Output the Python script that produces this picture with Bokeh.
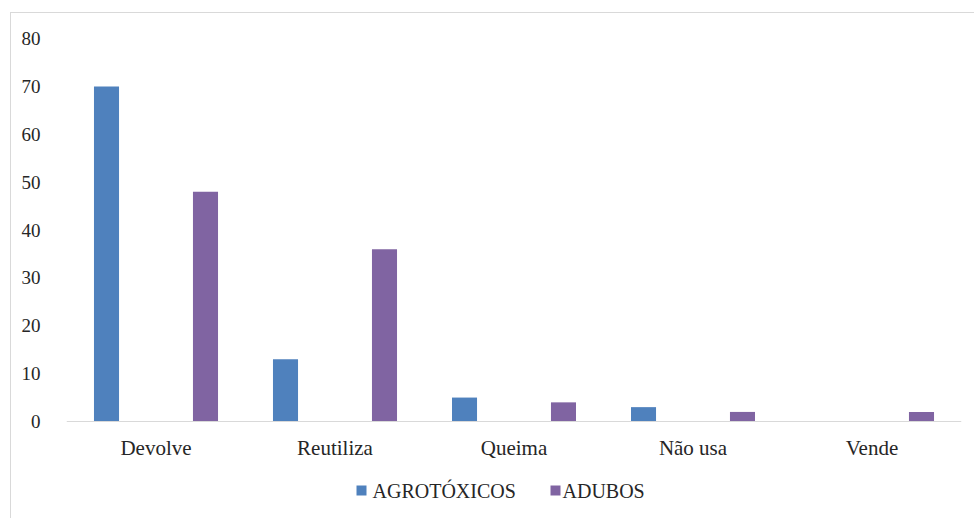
from bokeh.plotting import figure
from bokeh.models import Range1d, FactorRange, FixedTicker, ColumnDataSource, Span
from bokeh.core.properties import value
from bokeh.transform import dodge
from bokeh.embed import file_html
from bokeh.resources import INLINE

# Destino das embalagens (%)
categories = ["Devolve", "Reutiliza", "Queima", "Não usa", "Vende"]
agrotoxicos = [70, 13, 5, 3, 0]
adubos = [48, 36, 4, 2, 2]
series_names = ["AGROTÓXICOS", "ADUBOS"]
y_ticks = [0, 10, 20, 30, 40, 50, 60, 70, 80]

BLUE = "#4F81BD"
PURPLE = "#8064A2"
TEXT = "#262626"
FONT = "Liberation Serif"

# frame geometry (pixels inside the figure element)
FRAME_W, FRAME_H_ABOVE_ZERO, FRAME_H_BELOW_ZERO = 895, 383, 98
PX_PER_CAT = FRAME_W / len(categories)
PX_PER_UNIT = FRAME_H_ABOVE_ZERO / 80
y_bottom = -FRAME_H_BELOW_ZERO / PX_PER_UNIT


def px_to_x(px):
    """horizontal pixel offset from the frame's left edge -> category coordinate"""
    return px / PX_PER_CAT


def px_to_y(px):
    """pixels below the zero line -> value coordinate"""
    return -px / PX_PER_UNIT


source = ColumnDataSource(dict(cat=categories, agro=agrotoxicos,
                               adubo=adubos, base=[0] * len(categories)))

# the frame runs down to the bottom edge so the category labels and the
# key can sit underneath the zero line
p = figure(
    x_range=FactorRange(*categories, range_padding=0),
    y_range=Range1d(y_bottom, 80),
    width=964, height=506,
    min_border_left=55, min_border_right=14,
    min_border_top=25, min_border_bottom=0,
    x_axis_location=None,
    output_backend="svg", toolbar_location=None,
)
p.styles = {
    "margin-left": "10px",
    "margin-top": "12px",
    "border-left": "1px solid #d9d9d9",
    "border-top": "1px solid #d9d9d9",
}
p.outline_line_color = None
p.grid.visible = False

p.vbar(x=dodge("cat", -0.2765, range=p.x_range), top="agro", width=0.14,
       source=source, color=BLUE, line_color=None)
p.vbar(x=dodge("cat", 0.2765, range=p.x_range), top="adubo", width=0.14,
       source=source, color=PURPLE, line_color=None)

# baseline and category labels
p.add_layout(Span(location=0, dimension="width", line_color="#d9d9d9", line_width=1))
p.text(x="cat", y="base", text="cat", source=source, y_offset=26,
       text_align="center", text_baseline="middle",
       text_font=value(FONT), text_font_size="21px", text_color=TEXT)

# eixo y
p.yaxis.ticker = FixedTicker(ticks=y_ticks)
p.yaxis.axis_line_color = None
p.yaxis.major_tick_line_color = None
p.yaxis.minor_tick_line_color = None
p.yaxis.major_label_standoff = 20
p.yaxis.major_label_text_font = FONT
p.yaxis.major_label_text_font_size = "19px"
p.yaxis.major_label_text_color = TEXT

# series key under the categories
key_y = px_to_y(69)
key = ColumnDataSource(dict(
    sx=[px_to_x(295), px_to_x(489)],
    tx=[px_to_x(306), px_to_x(496)],
    y=[key_y, key_y],
    label=series_names,
    color=[BLUE, PURPLE],
))
p.rect(x="sx", y="y", width=10, height=10, width_units="screen",
       height_units="screen", fill_color="color", line_color=None, source=key)
p.text(x="tx", y="y", text="label", source=key, text_align="left",
       text_baseline="middle", text_font=value(FONT), text_font_size="20px",
       text_color=TEXT)

open("out.html", "w").write(file_html(p, INLINE))
